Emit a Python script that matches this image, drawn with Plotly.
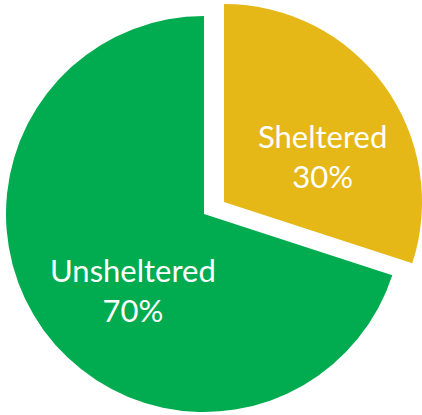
import plotly.graph_objects as go

# data
labels = ["Sheltered", "Unsheltered"]
values = [30, 70]

gold = "#E5B817"
green = "#00AC4F"
clear = "rgba(0,0,0,0)"

W, H = 422, 415

def dom(cx, cy, r):
    # domain box (paper fractions) for a pie centred at pixel cx, cy (from top)
    return dict(
        x=[(cx - r) / W, (cx + r) / W],
        y=[(H - cy - r) / H, (H - cy + r) / H],
    )

common = dict(
    labels=labels,
    values=values,
    sort=False,
    direction="clockwise",
    rotation=0,
    textinfo="none",
    marker=dict(line=dict(width=0)),
    showlegend=False,
    hoverinfo="label+percent",
)

fig = go.Figure()
# unsheltered slice, in place
fig.add_trace(go.Pie(
    marker_colors=[clear, green],
    domain=dom(204, 214, 198),
    **common
))
# sheltered slice, pulled out
fig.add_trace(go.Pie(
    marker_colors=[gold, clear],
    domain=dom(224, 202, 198),
    **common
))

# slice labels (pixel centres of each label block)
label_pos = [(322, 156), (133, 290)]
for (px, py), l, v in zip(label_pos, labels, values):
    fig.add_annotation(
        x=px / W, y=(H - py) / H, xref="paper", yref="paper",
        text=f"{l}<br>{v}%", showarrow=False,
        xanchor="center", yanchor="middle",
        font=dict(family="Lato", size=31, color="white"),
    )

fig.update_layout(
    width=W, height=H,
    margin=dict(l=0, r=0, t=0, b=0),
    paper_bgcolor="white",
    plot_bgcolor="white",
)

fig.write_html("out.html", config={"displayModeBar": False},
               post_script="document.body.style.margin='0';")
